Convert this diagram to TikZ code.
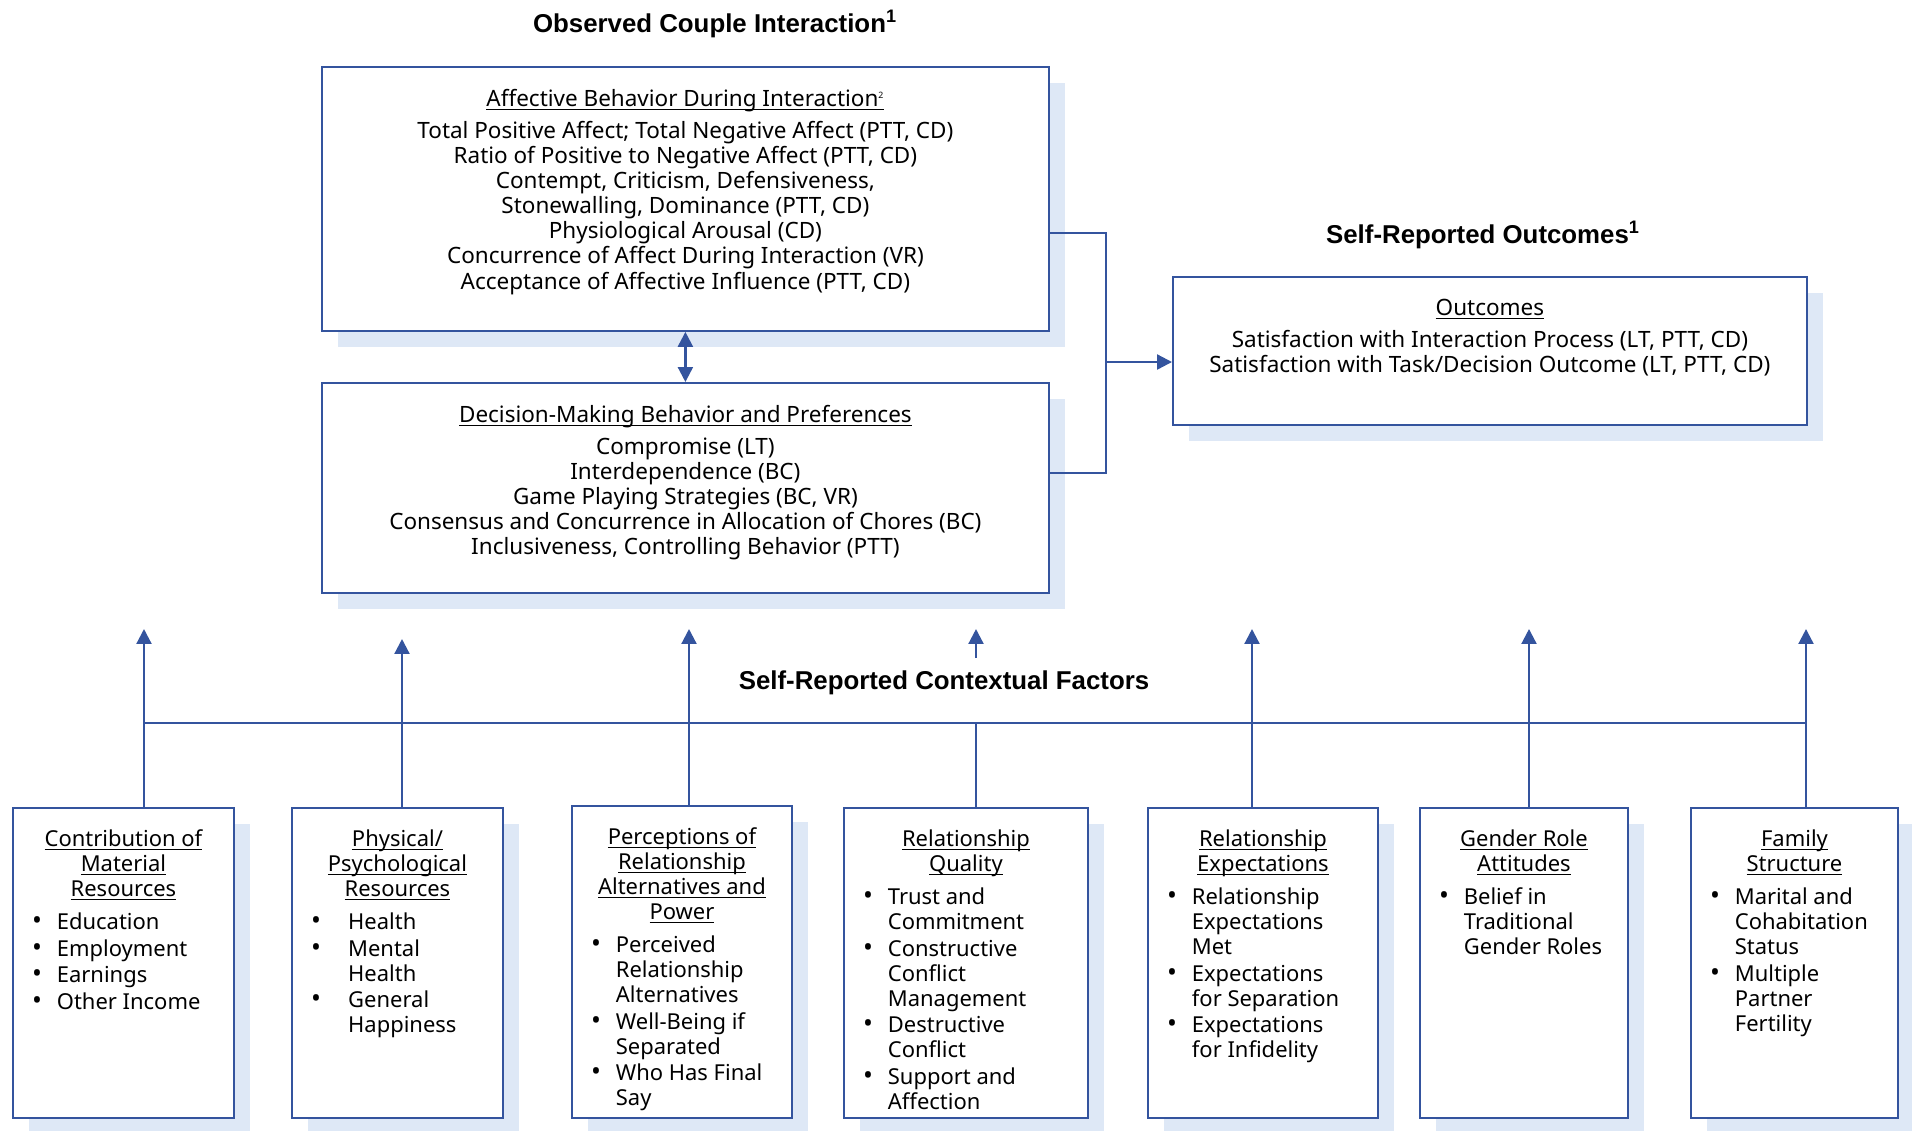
\documentclass[tikz,border=0pt]{standalone}
\usepackage{fontspec}
\setmainfont{Noto Sans}
\newfontfamily\headfont{Liberation Sans}
\usetikzlibrary{arrows.meta,shadows}

\definecolor{bdr}{RGB}{52,84,158}
\definecolor{shd}{RGB}{222,232,246}

% underline at a fixed depth
\newcommand{\undl}[1]{\leavevmode\setbox0\hbox{#1}\rlap{\rule[-2pt]{\wd0}{0.6pt}}\box0}
% fixed size text block, text starts at the top
\newcommand{\boxtext}[3]{\begin{minipage}[t][#2][t]{#1}\vspace*{12.5pt}#3\end{minipage}}
% bullet list of the lower boxes
\newenvironment{blist}[1][25pt]{\begin{list}{\llap{\fontsize{15}{15}\selectfont\textbullet}}{%
  \setlength{\leftmargin}{#1}\setlength{\labelwidth}{0pt}\setlength{\labelsep}{\dimexpr#1-16.5pt\relax}%
  \setlength{\topsep}{4.5pt}\setlength{\partopsep}{0pt}\setlength{\itemsep}{0.8pt}%
  \setlength{\parsep}{0pt}}\raggedright}{\end{list}}

\begin{document}
\begin{tikzpicture}[x=0.02cm,y=-0.02cm,
  box/.style={draw=bdr, line width=1.1pt, fill=white, inner sep=0pt, anchor=north west,
    drop shadow={fill=shd, opacity=1, shadow xshift=0.32cm, shadow yshift=-0.32cm}},
  upper/.style={box, font=\fontsize{12.8}{14.3}\selectfont},
  lower/.style={box, font=\fontsize{12.5}{14.25}\selectfont},
  head/.style={font=\headfont\fontsize{14.7}{16}\selectfont\bfseries},
  link/.style={draw=bdr, line width=1pt},
  up/.style={draw=bdr, line width=1.3pt, -{Triangle[length=8.5pt,width=8.5pt]}}]
\useasboundingbox (0,0) rectangle (1912,1130);

% headings
\node[head] (obs) at (715,24) {Observed Couple Interaction\textsuperscript{1}};
\node[head] (srout) at (1483,235) {Self-Reported Outcomes\textsuperscript{1}};
\node[head] (ctx) at (944,683) {Self-Reported Contextual Factors};

% observed interaction
\node[upper] (aff) at (321,66) {\boxtext{14.54cm}{5.28cm}{\centering
  \undl{Affective Behavior During Interaction\textsuperscript{\fontsize{5}{5}\selectfont 2}}\par\vspace{4pt}
  Total Positive Affect; Total Negative Affect (PTT, CD)\\
  Ratio of Positive to Negative Affect (PTT, CD)\\
  Contempt, Criticism, Defensiveness,\\
  Stonewalling, Dominance (PTT, CD)\\
  Physiological Arousal (CD)\\
  Concurrence of Affect During Interaction (VR)\\
  Acceptance of Affective Influence (PTT, CD)}};
\node[upper] (dec) at (321,382) {\boxtext{14.54cm}{4.2cm}{\centering
  \undl{Decision-Making Behavior and Preferences}\par\vspace{4pt}
  Compromise (LT)\\
  Interdependence (BC)\\
  Game Playing Strategies (BC, VR)\\
  Consensus and Concurrence in Allocation of Chores (BC)\\
  Inclusiveness, Controlling Behavior (PTT)}};

% outcomes
\node[upper] (out) at (1172,276) {\boxtext{12.68cm}{2.96cm}{\centering
  \undl{Outcomes}\par\vspace{4pt}
  Satisfaction with Interaction Process (LT, PTT, CD)\\
  Satisfaction with Task/Decision Outcome (LT, PTT, CD)}};

% contextual factors
\node[lower] (c1) at (12,807) {\boxtext{4.42cm}{6.2cm}{\centering
  \undl{Contribution of}\\\undl{Material}\\\undl{Resources}\par
  \begin{blist}\item Education \item Employment \item Earnings \item Other Income\end{blist}}};
\node[lower] (c2) at (291,807) {\boxtext{4.22cm}{6.2cm}{\centering
  \undl{Physical/}\\\undl{Psychological}\\\undl{Resources}\par
  \begin{blist}[32pt]\item Health \item Mental\\Health \item General\\Happiness\end{blist}}};
\node[lower] (c3) at (571,805) {\boxtext{4.4cm}{6.24cm}{\centering
  \undl{Perceptions of}\\\undl{Relationship}\\\undl{Alternatives and}\\\undl{Power}\par
  \begin{blist}\item Perceived\\Relationship\\Alternatives \item Well-Being if\\Separated
    \item Who Has Final\\Say\end{blist}}};
\node[lower] (c4) at (843,807) {\boxtext{4.88cm}{6.2cm}{\centering
  \undl{Relationship}\\\undl{Quality}\par
  \begin{blist}\item Trust and\\Commitment \item Constructive\\Conflict\\Management
    \item Destructive\\Conflict \item Support and\\Affection\end{blist}}};
\node[lower] (c5) at (1147,807) {\boxtext{4.6cm}{6.2cm}{\centering
  \undl{Relationship}\\\undl{Expectations}\par
  \begin{blist}\item Relationship\\Expectations\\Met \item Expectations\\for Separation
    \item Expectations\\for Infidelity\end{blist}}};
\node[lower] (c6) at (1419,807) {\boxtext{4.16cm}{6.2cm}{\centering
  \undl{Gender Role}\\\undl{Attitudes}\par
  \begin{blist}\item Belief in\\Traditional\\Gender Roles\end{blist}}};
\node[lower] (c7) at (1690,807) {\boxtext{4.14cm}{6.2cm}{\centering
  \undl{Family}\\\undl{Structure}\par
  \begin{blist}\item Marital and\\Cohabitation\\Status \item Multiple\\Partner\\Fertility\end{blist}}};

% links between the upper boxes
\coordinate (j1) at (1106,233);
\coordinate (j2) at (1106,473);
\coordinate (j) at (1106,362);
\draw[link] (aff.east |- j1) -- (j1) -- (j2) -- (dec.east |- j2);
\draw[up] (j) -- (out.west |- j);
\draw[up, {Triangle[length=8.5pt,width=8.5pt]}-{Triangle[length=8.5pt,width=8.5pt]}] (aff.south) -- (dec.north);

% bus of the contextual factors
\foreach \i/\x/\y in {1/144/629, 2/402/639, 3/689/629, 4/976/629, 5/1252/629, 6/1529/629, 7/1806/629} {
  \coordinate (b\i) at (\x,723);
  \coordinate (a\i) at (\x,\y);
  \draw[link] (c\i.north -| b\i) -- (b\i);
}
\draw[link] (b1) -- (b7);
\foreach \i in {1,2,3,5,6,7}
  \draw[up] (b\i) -- (a\i);
\coordinate (m4) at (976,658);
\draw[up] (m4) -- (a4);

\end{tikzpicture}
\end{document}
